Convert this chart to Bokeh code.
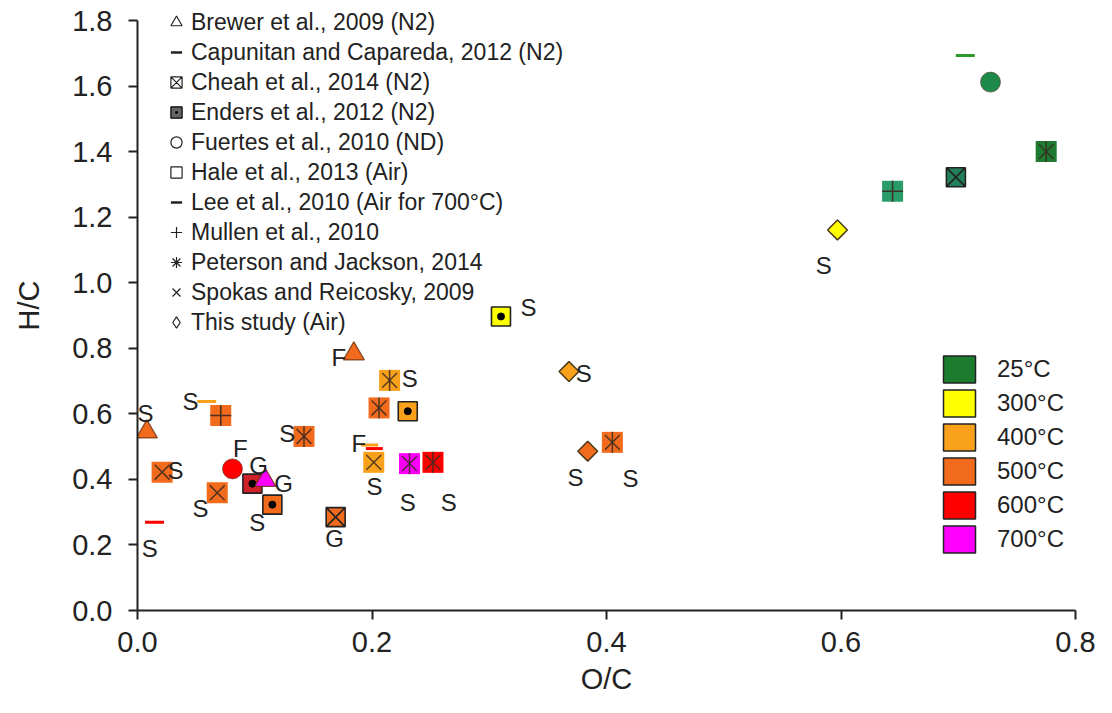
import math
from bokeh.plotting import figure
from bokeh.models import ColumnDataSource, Legend, LegendItem, Range1d, FixedTicker, PrintfTickFormatter
from bokeh.core.properties import value
from bokeh.embed import file_html
from bokeh.resources import INLINE

# ---------------- data ----------------
study_keys = ["Brewer", "Capunitan", "Cheah", "Enders", "Fuertes", "Hale", "Lee",
              "Mullen", "Peterson", "Spokas", "This"]
study_names = ["Brewer et al., 2009 (N2)", "Capunitan and Capareda, 2012 (N2)",
               "Cheah et al., 2014 (N2)", "Enders et al., 2012 (N2)",
               "Fuertes et al., 2010 (ND)", "Hale et al., 2013 (Air)",
               "Lee et al., 2010 (Air for 700°C)", "Mullen et al., 2010",
               "Peterson and Jackson, 2014", "Spokas and Reicosky, 2009",
               "This study (Air)"]

temps = [25, 300, 400, 500, 600, 700]
temp_labels = ["25°C", "300°C", "400°C", "500°C", "600°C", "700°C"]

point_study = ["Brewer", "Capunitan", "Mullen", "Spokas", "Fuertes", "Enders", "Brewer",
               "Spokas", "Enders", "Capunitan", "Peterson", "Cheah", "Brewer", "Peterson",
               "Peterson", "Hale", "Lee", "Lee", "Spokas", "Peterson", "Peterson", "Hale",
               "This", "This", "Peterson", "Capunitan", "Fuertes", "Peterson", "Cheah",
               "Mullen", "This"]
point_temp = [500, 400, 500, 500, 600, 600, 700,
              500, 500, 600, 500, 500, 500, 400,
              500, 400, 400, 600, 400, 700, 600, 300,
              400, 500, 500, 25, 25, 25, 25,
              25, 300]
point_oc = [0.008, 0.059, 0.071, 0.021, 0.081, 0.098, 0.109,
            0.068, 0.115, 0.0145, 0.142, 0.169, 0.1845, 0.215,
            0.206, 0.2305, 0.198, 0.202, 0.2015, 0.232, 0.252, 0.310,
            0.368, 0.384, 0.405, 0.706, 0.7275, 0.775, 0.698,
            0.644, 0.597]
point_hc = [0.545, 0.638, 0.595, 0.422, 0.432, 0.387, 0.397,
            0.359, 0.323, 0.269, 0.531, 0.285, 0.783, 0.702,
            0.618, 0.608, 0.505, 0.494, 0.452, 0.448, 0.452, 0.897,
            0.729, 0.486, 0.513, 1.693, 1.612, 1.400, 1.322,
            1.279, 1.161]

label_text = ["S", "S", "S", "F", "G", "G", "S", "S", "S", "S", "G",
              "F", "S", "F", "S", "S", "S", "S", "S", "S", "S", "S"]
label_oc = [0.0068, 0.0452, 0.0324, 0.0878, 0.1032, 0.1245, 0.0537, 0.1021, 0.0105, 0.1277, 0.168,
            0.1717, 0.2322, 0.1887, 0.2021, 0.2305, 0.2655, 0.3335, 0.3806, 0.3736, 0.4205, 0.5853]
label_hc = [0.601, 0.638, 0.427, 0.494, 0.442, 0.387, 0.311, 0.269, 0.189, 0.541, 0.220,
            0.773, 0.707, 0.509, 0.378, 0.330, 0.330, 0.924, 0.722, 0.407, 0.403, 1.052]

y_ticks = [0.0, 0.2, 0.4, 0.6, 0.8, 1.0, 1.2, 1.4, 1.6, 1.8]
x_ticks = [0.0, 0.2, 0.4, 0.6, 0.8]

# ---------------- styles ----------------
temp_colors = {25: "#1C7C2E", 300: "#FFFF00", 400: "#F9A11B", 500: "#F26A1B",
               600: "#FF0000", 700: "#FF00FF"}
green_shades = {"Fuertes": "#1E8A4A", "Mullen": "#2A9C6A", "Cheah": "#22805A",
                "Peterson": "#1E7A30", "Capunitan": "#2E9A2E"}
FONT = "Liberation Sans"
DARK = "#222222"
MARK_LINE = "#3A2A20"


def fill_for(key, t):
    if t == 25:
        return green_shades.get(key, temp_colors[25])
    if key == "Enders" and t == 600:
        return "#D0202A"
    return temp_colors[t]


def source(key):
    idx = [i for i, s in enumerate(point_study) if s == key]
    return ColumnDataSource(dict(
        x=[point_oc[i] for i in idx],
        y=[point_hc[i] for i in idx],
        c=[fill_for(key, point_temp[i]) for i in idx],
    ))


# frame extends 20px above the 1.8 tick so the legend is not clipped
PX_PER_UNIT = 590 / 1.8
p = figure(width=1112, height=713, x_range=Range1d(0, 0.8),
           y_range=Range1d(0, y_ticks[-1] + 20 / PX_PER_UNIT),
           output_backend="svg", toolbar_location=None,
           min_border_left=137, min_border_right=37, min_border_top=0, min_border_bottom=103)
p.outline_line_color = None
p.xgrid.visible = False
p.ygrid.visible = False
p.background_fill_color = "white"
p.border_fill_color = "white"

p.xaxis.ticker = FixedTicker(ticks=x_ticks)
p.yaxis.ticker = FixedTicker(ticks=y_ticks)
p.yaxis.bounds = (y_ticks[0], y_ticks[-1])
for ax in (p.xaxis[0], p.yaxis[0]):
    ax.formatter = PrintfTickFormatter(format="%.1f")
    ax.axis_line_width = 2
    ax.axis_line_color = DARK
    ax.major_tick_line_color = DARK
    ax.major_tick_line_width = 2
    ax.major_tick_out = 9
    ax.major_tick_in = 0
    ax.minor_tick_line_color = None
    ax.major_label_text_font = FONT
    ax.major_label_text_font_size = "29px"
    ax.major_label_text_color = DARK
    ax.axis_label_text_font = FONT
    ax.axis_label_text_font_size = "29px"
    ax.axis_label_text_font_style = "normal"
    ax.axis_label_text_color = DARK
p.xaxis.axis_label = "O/C"
p.yaxis.axis_label = "H/C"
p.yaxis.major_label_standoff = 16
p.xaxis.major_label_standoff = 12
p.yaxis.axis_label_standoff = 24
p.xaxis.axis_label_standoff = 8

SQ = 21
# squares with crosses / x / star  (Excel style filled background)
s = source("Spokas")
p.scatter("x", "y", source=s, marker="square", size=SQ, fill_color="c", line_alpha=0)
p.scatter("x", "y", source=s, marker="x", size=SQ, line_color=MARK_LINE, line_width=1.5, line_alpha=0.85)

s = source("Peterson")
p.scatter("x", "y", source=s, marker="square", size=SQ, fill_color="c", line_alpha=0)
p.scatter("x", "y", source=s, marker="x", size=SQ, line_color=MARK_LINE, line_width=1.5, line_alpha=0.85)
p.scatter("x", "y", source=s, marker="dash", size=SQ, angle=math.pi / 2, line_color=MARK_LINE,
          line_width=1.5, line_alpha=0.85)

s = source("Mullen")
p.scatter("x", "y", source=s, marker="square", size=SQ, fill_color="c", line_alpha=0)
p.scatter("x", "y", source=s, marker="cross", size=SQ, line_color=MARK_LINE, line_width=1.6, line_alpha=0.9)

s = source("Cheah")
p.scatter("x", "y", source=s, marker="square_x", size=19, fill_color="c", line_color=DARK, line_width=1.6)

for key in ("Enders", "Hale"):
    s = source(key)
    p.scatter("x", "y", source=s, marker="square", size=19, fill_color="c", line_color=DARK, line_width=1.6)
    p.scatter("x", "y", source=s, marker="circle", size=7, fill_color="black", line_color="black")

s = source("This")
p.scatter("x", "y", source=s, marker="square", size=14, angle=math.pi / 4, fill_color="c",
          line_color="#4A3A18", line_width=1.5)

s = source("Fuertes")
p.scatter("x", "y", source=s, marker="circle", size=20, fill_color="c", line_color="#553322",
          line_width=1.0, line_alpha=0.6)

s = source("Brewer")
p.scatter("x", "y", source=s, marker="triangle", size=21, fill_color="c", line_color="#6A3010",
          line_width=1.3, line_alpha=0.8)

s = source("Capunitan")
p.scatter("x", "y", source=s, marker="dash", size=19, line_color="c", line_width=3)

s = source("Lee")
p.scatter("x", "y", source=s, marker="dash", size=17, line_color="c", line_width=3)

# sample-type annotations
p.text(x=label_oc, y=label_hc, text=label_text, text_align="center", text_baseline="middle",
       text_font=value(FONT), text_font_size="24px", text_color=DARK)

# ---------------- study legend (symbols) ----------------
nan = float("nan")


def dummy(marker, **kw):
    opts = dict(size=10, line_color=DARK, line_width=1.2, fill_color=None)
    opts.update(kw)
    return p.scatter([nan], [nan], marker=marker, **opts)


legend_glyphs = {
    "Brewer": [dummy("triangle")],
    "Capunitan": [dummy("dash", line_width=2.5)],
    "Cheah": [dummy("square_x")],
    "Enders": [dummy("square_dot", fill_color="#666666", line_color="black")],
    "Fuertes": [dummy("circle")],
    "Hale": [dummy("square")],
    "Lee": [dummy("dash", line_width=2.5)],
    "Mullen": [dummy("cross")],
    "Peterson": [dummy("asterisk")],
    "Spokas": [dummy("x")],
    "This": [dummy("diamond")],
}
items1 = [LegendItem(label=name, renderers=legend_glyphs[k]) for k, name in zip(study_keys, study_names)]
leg1 = Legend(items=items1, location=(24, 274), orientation="vertical",
              glyph_width=30, glyph_height=28, label_height=28, spacing=2, padding=0, margin=0,
              label_standoff=0, label_text_font=FONT, label_text_font_size="23px",
              label_text_color=DARK, background_fill_alpha=0, border_line_alpha=0)
p.add_layout(leg1)

# ---------------- temperature legend ----------------
items2 = []
for t, lab in zip(temps, temp_labels):
    r = p.quad(left=[nan], right=[nan], top=[nan], bottom=[nan], fill_color=temp_colors[t],
               line_color=DARK, line_width=1.5)
    items2.append(LegendItem(label=lab, renderers=[r]))
leg2 = Legend(items=items2, location=(802, 54), orientation="vertical",
              glyph_width=40, glyph_height=34, label_height=34, spacing=0, padding=0, margin=0,
              label_standoff=18, label_text_font=FONT, label_text_font_size="24px",
              label_text_color=DARK, background_fill_alpha=0, border_line_alpha=0)
p.add_layout(leg2)

open("out.html", "w").write(file_html(p, INLINE))
